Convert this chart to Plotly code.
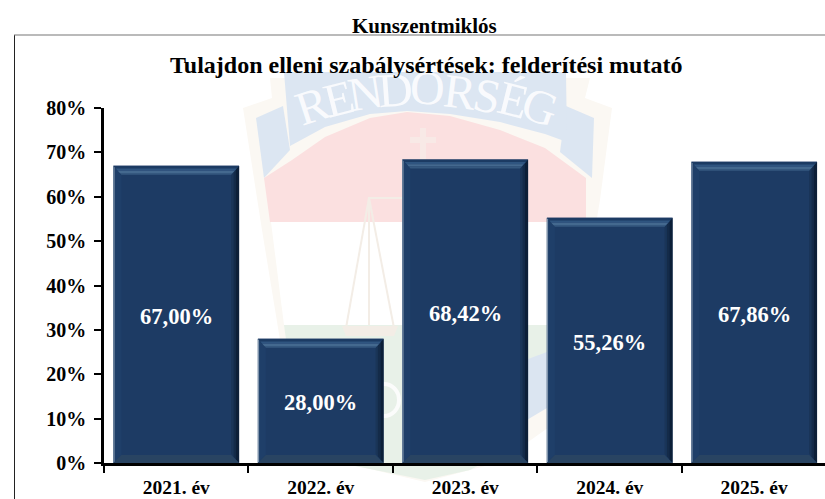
import plotly.graph_objects as go

categories = ["2021. év", "2022. év", "2023. év", "2024. év", "2025. év"]
values = [67.00, 28.00, 68.42, 55.26, 67.86]
labels = ["67,00%", "28,00%", "68,42%", "55,26%", "67,86%"]
y_ticks = [0, 10, 20, 30, 40, 50, 60, 70, 80]
y_tick_labels = ["0%", "10%", "20%", "30%", "40%", "50%", "60%", "70%", "80%"]
page_title = "Kunszentmiklós"
chart_title = "Tulajdon elleni szabálysértések: felderítési mutató"

FONT = "Liberation Serif"
BAR = "#1d3b64"
L, R, T, B = 104, 825, 108, 463
W, H = 825, 499
BAR_WIDTH = 0.87


def px(x):
    return (x - L) / (R - L)


def py(y):
    return (B - y) / (B - T)


def path(points):
    return "M " + " L ".join(f"{px(x):.5f} {py(y):.5f}" for x, y in points) + " Z"


def wm(points, color):
    return dict(type="path", xref="paper", yref="paper", layer="below", path=path(points),
                fillcolor=color, line=dict(width=0))


def wl(points, color, width=2):
    d = "M " + " L ".join(f"{px(x):.5f} {py(y):.5f}" for x, y in points)
    return dict(type="path", xref="paper", yref="paper", layer="below", path=d,
                line=dict(color=color, width=width))


shapes = [
    # watermark: shield body
    wm([(243, 108), (272, 98), (270, 78), (590, 78), (585, 98), (612, 108), (600, 200), (575, 350),
        (552, 425), (500, 462), (425, 482), (340, 462), (295, 425), (280, 340), (262, 230)], "#fbf8f3"),
    # ribbon tails
    wm([(256, 118), (283, 106), (290, 150), (264, 178)], "#dce6f2"),
    wm([(566, 106), (594, 118), (592, 178), (560, 152)], "#dce6f2"),
    # red field
    wm([(264, 178), (292, 160), (325, 137), (370, 118), (407, 112), (450, 116), (500, 130), (545, 148), (586, 178),
        (586, 222), (270, 222)], "#fbe0e0"),
    # white band
    wm([(271, 222), (585, 222), (570, 325), (284, 325)], "#ffffff"),
    # green band
    wm([(284, 325), (566, 325), (553, 356), (530, 378), (525, 440), (470, 470), (425, 480), (350, 465), (298, 425)],
       "#e8f1e8"),
    # lower-right blue
    wm([(520, 362), (547, 352), (547, 408), (520, 424)], "#dbe5f1"),
    # letter ring on the green band
    dict(type="circle", xref="paper", yref="paper", layer="below", x0=px(369), x1=px(399), y0=py(416), y1=py(384),
         line=dict(color="#fbfcfb", width=4)),
    # ribbon main
    wm([(284, 72), (350, 72), (500, 72), (566, 72), (567, 142), (545, 134), (500, 122), (450, 114), (407, 111),
        (370, 114), (325, 127), (290, 146)], "#dce6f2"),
    # cross
    wm([(420, 128), (426, 128), (426, 137), (436, 137), (436, 143), (426, 143), (426, 160), (420, 160), (420, 143),
        (410, 143), (410, 137), (420, 137)], "#f8e9e6"),
    # scales
    wl([(368, 198), (430, 198)], "#f3ede6"),
    wl([(369, 198), (346, 328)], "#f3ede6"),
    wl([(369, 198), (394, 328)], "#f3ede6"),
    wl([(369, 198), (369, 325)], "#f3ede6"),
    wm([(342, 326), (398, 326), (394, 336), (346, 336)], "#f3ede6"),
    # frame
    dict(type="line", xref="paper", yref="paper", x0=px(14.5), x1=px(14.5), y0=py(35), y1=py(499),
         line=dict(color="#222222", width=1)),
    dict(type="line", xref="paper", yref="paper", x0=px(14), x1=1, y0=py(35), y1=py(35),
         line=dict(color="#777777", width=1.2)),
]

# bevels, derived from bar values
BX = 8 / 144.5
BY = 9 / 4.4375


def poly(points, color):
    d = "M " + " L ".join(f"{x:.4f} {y:.4f}" for x, y in points) + " Z"
    return dict(type="path", xref="x", yref="y", layer="above", path=d, fillcolor=color, line=dict(width=0))


half = BAR_WIDTH / 2
for i, v in enumerate(values):
    x0, x1 = i - half, i + half
    sx, sy = BX, BY
    # left
    shapes.append(poly([(x0, 0), (x0, v), (x0 + sx, v - sy), (x0 + sx, sy * 0.9)], "#1f3f69"))
    shapes.append(poly([(x0, 0), (x0, v), (x0 + sx * .15, v - sy * .15), (x0 + sx * .15, sy * .15)], "#7f93ab"))
    # right gradient
    for f0, f1, c in [(1.0, 0.7, "#1a3558"), (0.7, 0.4, "#142b49"), (0.4, 0.0, "#0c1f38")]:
        shapes.append(poly([(x1 - sx * f0, sy * f0), (x1 - sx * f0, v - sy * f0), (x1 - sx * f1, v - sy * f1),
                            (x1 - sx * f1, sy * f1)], c))
    # bottom
    shapes.append(poly([(x0, 0), (x1, 0), (x1 - sx, sy * .9), (x0 + sx, sy * .9)], "#294462"))
    # top: dark rim then lighter strip fading back to the bar colour
    shapes.append(poly([(x0, v), (x1, v), (x1 - sx, v - sy), (x0 + sx, v - sy)], "#1c3b63"))
    for f0, f1, c in [(0.3, 0.55, "#2f5580"), (0.55, 0.8, "#44698f"), (0.8, 1.0, "#35587f")]:
        shapes.append(poly([(x0 + sx * f0, v - sy * f0), (x1 - sx * f0, v - sy * f0), (x1 - sx * f1, v - sy * f1),
                            (x0 + sx * f1, v - sy * f1)], c))

annotations = []

# watermark lettering (first, so every other text sits on top of it)
for ch, x, y, a in [("R", 312, 105, -18), ("E", 338, 98, -14), ("N", 365, 92, -9), ("D", 395, 89, -4), ("Ő", 427, 87, 2),
                    ("R", 460, 91, 7), ("S", 487, 95, 11), ("É", 513, 99, 14), ("G", 540, 106, 19)]:
    annotations.append(dict(text=ch, xref="paper", yref="paper", x=px(x), y=py(y), showarrow=False,
                            textangle=a, xanchor="center", yanchor="middle", opacity=0.95,
                            font=dict(family=FONT, size=48, color="#fbfcfe")))

annotations += [
    dict(text=f"<b>{page_title}</b>", xref="paper", yref="paper", x=px(424), y=py(26), showarrow=False,
         xanchor="center", yanchor="middle", font=dict(family=FONT, size=21, color="#000000")),
    dict(text=f"<b>{chart_title}</b>", xref="paper", yref="paper", x=px(425.5), y=py(65), showarrow=False,
         xanchor="center", yanchor="middle", font=dict(family=FONT, size=24, color="#000000")),
]

# value labels, centred in each bar
for cat, v, lab in zip(categories, values, labels):
    annotations.append(dict(text=f"<b>{lab}</b>", x=cat, y=v / 2, xref="x", yref="y", yshift=-2, showarrow=False,
                            xanchor="center", yanchor="middle",
                            font=dict(family=FONT, size=22.5, color="#ffffff")))

fig = go.Figure(go.Bar(
    x=categories, y=values, width=BAR_WIDTH,
    marker=dict(color=BAR, line=dict(width=0)), hoverinfo="skip",
))

fig.update_layout(
    width=W, height=H, autosize=False,
    margin=dict(l=L, r=W - R, t=T, b=H - B, pad=0),
    paper_bgcolor="#ffffff", plot_bgcolor="rgba(0,0,0,0)",
    showlegend=False, shapes=shapes, annotations=annotations,
    font=dict(family=FONT, color="#000000"),
)
fig.update_xaxes(
    type="category", range=[-0.5, 4.49], tickson="boundaries", ticks="outside", ticklen=7, tickwidth=2,
    ticklabelstandoff=5,
    tickcolor="#000000", showline=True, linecolor="#000000", linewidth=2.5, showgrid=False, zeroline=False,
    tickfont=dict(family=FONT, size=19.5, color="#000000", weight="bold"),
)
fig.update_yaxes(
    range=[0, 80], tickvals=y_ticks, ticktext=y_tick_labels, ticks="outside", ticklen=7, tickwidth=2,
    ticklabelstandoff=4,
    tickcolor="#000000", showline=True, linecolor="#000000", linewidth=2.5, showgrid=False, zeroline=False,
    tickfont=dict(family=FONT, size=20, color="#000000", weight="bold"),
)
fig.write_html("out.html", config=dict(displayModeBar=False),
               post_script="document.body.style.margin='0';document.documentElement.style.overflow='hidden';")
